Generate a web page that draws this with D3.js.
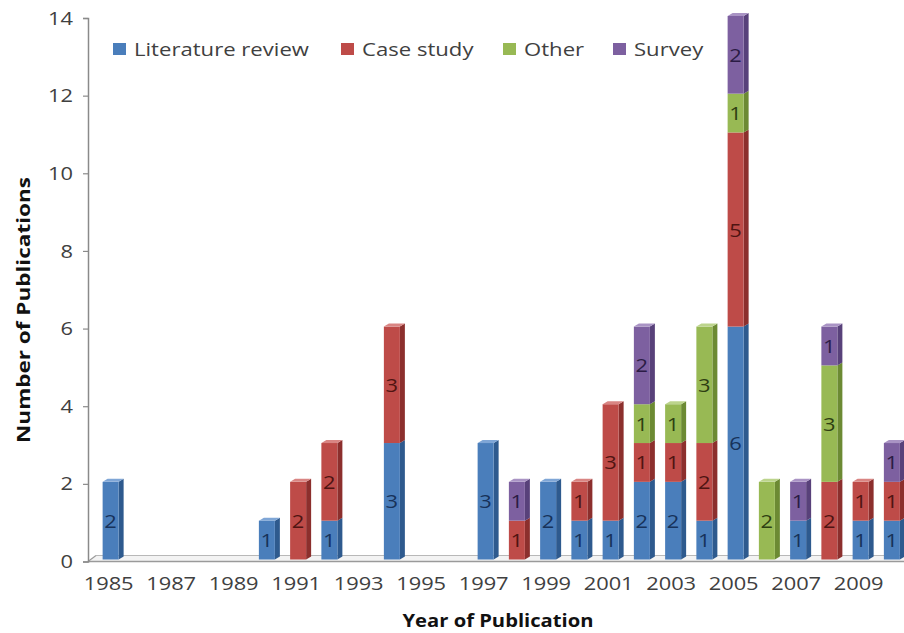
<!DOCTYPE html>
<html>
<head>
<meta charset="utf-8">
<script src="https://cdn.jsdelivr.net/npm/d3@7/dist/d3.min.js"></script>
<style>
  html, body { margin: 0; padding: 0; background: #fff; }
  svg { display: block; }
  text { font-family: "Open Sans", Lato, sans-serif; }
</style>
</head>
<body>
<svg id="chart" width="904" height="633"></svg>
<script>
const years = ["1985","1986","1987","1988","1989","1990","1991","1992","1993","1994","1995","1996","1997",
               "1998","1999","2000","2001","2002","2003","2004","2005","2006","2007","2008","2009","2010"];
const literatureReview = [2,0,0,0,0,1,0,1,0,3,0,0,3,0,2,1,1,2,2,1,6,0,1,0,1,1];
const caseStudy        = [0,0,0,0,0,0,2,2,0,3,0,0,0,1,0,1,3,1,1,2,5,0,0,2,1,1];
const other            = [0,0,0,0,0,0,0,0,0,0,0,0,0,0,0,0,0,1,1,3,1,2,0,3,0,0];
const survey           = [0,0,0,0,0,0,0,0,0,0,0,0,0,1,0,0,0,2,0,0,2,0,1,1,0,1];
const seriesNames = ["Literature review","Case study","Other","Survey"];
const yTicks = [0,2,4,6,8,10,12,14];
const xTickLabels = ["1985","1987","1989","1991","1993","1995","1997","1999","2001","2003","2005","2007","2009"];

const colors = {
  "Literature review": {front:"#4A7EBB", side:"#2E5A8E", top:"#7FA6D6", text:"#17325A"},
  "Case study":        {front:"#BE4B48", side:"#8C2F2D", top:"#D98583", text:"#4F1412"},
  "Other":             {front:"#98B954", side:"#6C8A33", top:"#BCD48C", text:"#2E3F12"},
  "Survey":            {front:"#7D60A0", side:"#58417A", top:"#A993C4", text:"#2B1C45"}
};

// horizontal stretch helper (reference text is wide)
function stretch(sel, sx) {
  sel.each(function() {
    const t = d3.select(this);
    const x = +t.attr("x") || 0;
    t.attr("x", x / sx);
    t.attr("transform", ((t.attr("transform") || "") + ` scale(${sx},1)`).trim());
  });
}
function fitFactor(node, target) { return target / node.getComputedTextLength(); }

const rows = years.map((y,i) => ({
  year: y,
  "Literature review": literatureReview[i],
  "Case study": caseStudy[i],
  "Other": other[i],
  "Survey": survey[i]
}));

const svg = d3.select("#chart");
const x = d3.scaleBand().domain(years).range([95, 95 + 26*31.25]).padding(0);
const y = d3.scaleLinear().domain([0,14]).range([561.5, 18]);

// floor
const floorG = svg.append("g");
floorG.append("path")
  .attr("d", `M88,${y(0)} L96,${y(0)-6} L910,${y(0)-6} L910,${y(0)} Z`)
  .attr("fill", "#f3f3f3").attr("stroke", "none");
floorG.append("line").attr("x1",96).attr("x2",910).attr("y1",y(0)-6).attr("y2",y(0)-6)
  .attr("stroke","#b8b8b8").attr("stroke-width",1.2);
floorG.append("line").attr("x1",88).attr("x2",910).attr("y1",y(0)).attr("y2",y(0))
  .attr("stroke","#9a9a9a").attr("stroke-width",1.5);
floorG.append("line").attr("x1",88).attr("x2",96).attr("y1",y(0)).attr("y2",y(0)-6)
  .attr("stroke","#9a9a9a").attr("stroke-width",1.2);

// x axis labels
const xAxis = d3.axisBottom(x).tickValues(xTickLabels).tickSize(0).tickPadding(15);
const xg = svg.append("g").attr("transform",`translate(-2,${y(0)})`).call(xAxis);
xg.select(".domain").remove();
xg.selectAll(".tick text").attr("fill","#404040").style("font-size","19px")
  .style("font-family","'Open Sans', Lato, sans-serif");
const tickSx = fitFactor(xg.select(".tick text").node(), 50);
stretch(xg.selectAll(".tick text"), tickSx);

// y axis
const yAxis = d3.axisLeft(y).tickValues(yTicks).tickSize(5).tickPadding(10);
const yg = svg.append("g").attr("transform","translate(88,0)").call(yAxis);
yg.select(".domain").attr("stroke","#8a8a8a").attr("stroke-width",1.5);
yg.selectAll(".tick line").attr("stroke","#8a8a8a").attr("stroke-width",1.2);
yg.selectAll(".tick text").attr("fill","#404040").style("font-size","19px")
  .style("font-family","'Open Sans', Lato, sans-serif");
stretch(yg.selectAll(".tick text"), tickSx);

// stacked 3D bars
const stack = d3.stack().keys(seriesNames)(rows);
const dx = 5, dy = 3, shiftY = -2;
const barW = 16;
const barsG = svg.append("g").attr("transform",`translate(0,${shiftY})`);
const totals = rows.map(r => seriesNames.reduce((s,k)=>s+r[k],0));

stack.forEach(layer => {
  const c = colors[layer.key];
  layer.forEach((d,i) => {
    const v = d[1]-d[0];
    if (v <= 0) return;
    const cx = x(years[i]) + x.bandwidth()/2;
    const x0 = cx - barW/2, x1 = cx + barW/2;
    const yt = y(d[1]), yb = y(d[0]);
    const g = barsG.append("g");
    g.append("path")
      .attr("d", `M${x1},${yt} L${x1+dx},${yt-dy} L${x1+dx},${yb-dy} L${x1},${yb} Z`)
      .attr("fill", c.side);
    g.append("rect").attr("x",x0).attr("y",yt).attr("width",barW).attr("height",yb-yt)
      .attr("fill", c.front);
    if (Math.abs(d[1] - totals[i]) < 1e-9) {
      g.append("path")
        .attr("d", `M${x0},${yt} L${x0+dx},${yt-dy} L${x1+dx},${yt-dy} L${x1},${yt} Z`)
        .attr("fill", c.top);
    }
    const t = g.append("text")
      .attr("x", cx).attr("y", (yt+yb)/2 + 7)
      .attr("text-anchor","middle")
      .attr("fill", c.text)
      .style("font-size","19px")
      .text(v);
    stretch(t, tickSx);
  });
});

// legend
const legendPos = [113, 341, 503, 613];
const legend = svg.append("g");
let legendSx = null;
seriesNames.forEach((name,i) => {
  legend.append("rect").attr("x",legendPos[i]).attr("y",43).attr("width",13).attr("height",12)
    .attr("fill", colors[name].front);
  const t = legend.append("text").attr("x",legendPos[i]+21).attr("y",56)
    .attr("fill","#404040").style("font-size","19px").text(name);
  if (legendSx === null) legendSx = fitFactor(t.node(), 175);
  stretch(t, legendSx);
});

// axis titles
const xt = svg.append("text").attr("x",498).attr("y",627).attr("text-anchor","middle")
  .attr("fill","#111").style("font-size","17px").style("font-weight","bold")
  .text("Year of Publication");
stretch(xt, fitFactor(xt.node(), 191));
const ytt = svg.append("text").attr("transform","translate(30,310) rotate(-90)").attr("text-anchor","middle")
  .attr("fill","#111").style("font-size","17px").style("font-weight","bold")
  .text("Number of Publications");
stretch(ytt, fitFactor(ytt.node(), 266));
</script>
</body>
</html>
